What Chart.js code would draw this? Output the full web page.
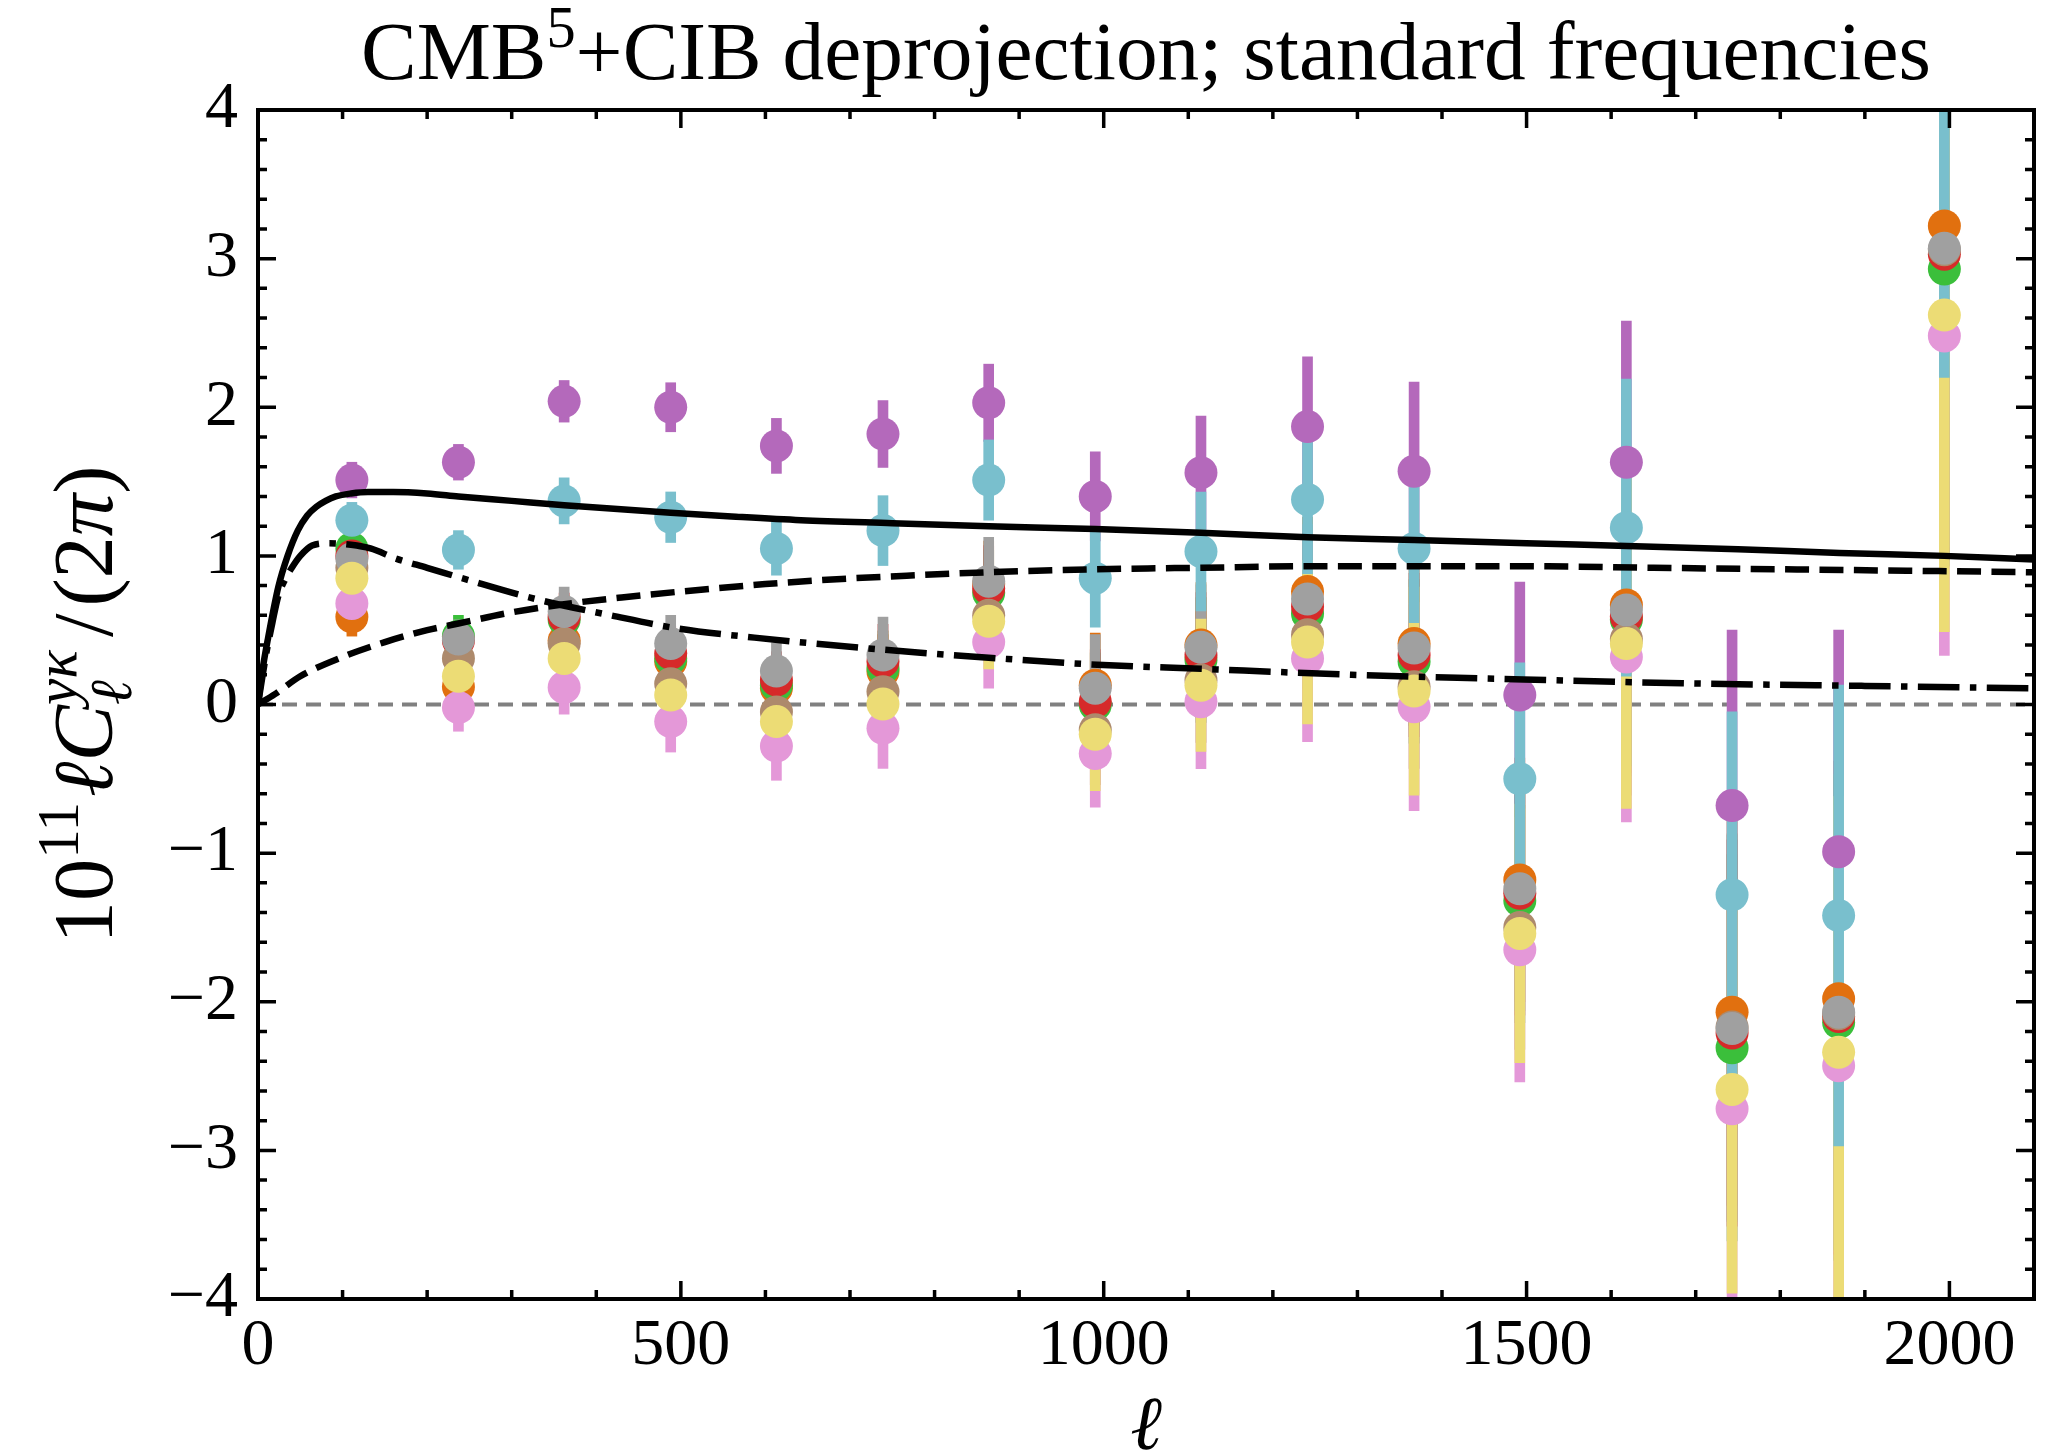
<!DOCTYPE html>
<html>
<head>
<meta charset="utf-8">
<script src="https://cdn.jsdelivr.net/npm/chart.js@4.4.1/dist/chart.umd.min.js"></script>
<style>
  html, body { margin: 0; padding: 0; background: #fff; }
  canvas { display: block; }
</style>
</head>
<body>
<canvas id="chart" width="2060" height="1453"></canvas>
<script>
// bin centres (ell)
const ells = [111, 237, 362, 488, 613, 739, 864, 990, 1115, 1241, 1367, 1492, 1618, 1743, 1869, 1994];

// measured points, one array per map
const orangeVals = [0.59, 0.12, 0.43, 0.29, 0.11, 0.22, 0.81, 0.13, 0.40, 0.76, 0.41, -1.18, 0.67, -2.07, -1.98, 3.22];
const greenVals  = [1.05, 0.46, 0.57, 0.31, 0.13, 0.245, 0.75, -0.003, 0.30, 0.61, 0.29, -1.32, 0.57, -2.31, -2.14, 2.93];
const redVals    = [1.00, 0.43, 0.59, 0.345, 0.165, 0.29, 0.78, 0.02, 0.333, 0.66, 0.333, -1.27, 0.59, -2.21, -2.10, 3.03];
const purpleVals = [1.51, 1.63, 2.04, 2.00, 1.74, 1.82, 2.03, 1.40, 1.56, 1.87, 1.57, 0.064, 1.63, -0.68, -0.99, 5.0];
const brownVals  = [0.92, 0.31, 0.41, 0.14, -0.05, 0.086, 0.60, -0.17, 0.165, 0.47, 0.12, -1.50, 0.44, -2.17, -2.08, 3.06];
const pinkVals   = [0.68, -0.02, 0.115, -0.115, -0.28, -0.16, 0.42, -0.33, 0.019, 0.31, -0.015, -1.65, 0.32, -2.72, -2.43, 2.48];
const grayVals   = [0.98, 0.44, 0.625, 0.41, 0.225, 0.333, 0.83, 0.11, 0.385, 0.71, 0.38, -1.24, 0.636, -2.18, -2.07, 3.07];
const yellowVals = [0.85, 0.19, 0.31, 0.064, -0.115, 0.003, 0.56, -0.20, 0.13, 0.42, 0.09, -1.54, 0.41, -2.59, -2.34, 2.62];
const cyanVals   = [1.24, 1.04, 1.37, 1.26, 1.05, 1.17, 1.51, 0.85, 1.03, 1.38, 1.05, -0.50, 1.19, -1.28, -1.42, 4.4];

// 1-sigma errors
const orangeErrs = [0.13, 0.13, 0.16, 0.18, 0.19, 0.25, 0.29, 0.35, 0.42, 0.50, 0.55, 0.82, 1.05, 1.30, 1.60, 2.00];
const greenErrs  = [0.12, 0.14, 0.16, 0.18, 0.19, 0.25, 0.29, 0.35, 0.42, 0.50, 0.55, 0.82, 1.05, 1.30, 1.60, 2.00];
const redErrs    = [0.12, 0.13, 0.16, 0.18, 0.19, 0.25, 0.29, 0.35, 0.42, 0.50, 0.55, 0.82, 1.05, 1.30, 1.60, 2.00];
const purpleErrs = [0.12, 0.12, 0.14, 0.165, 0.185, 0.225, 0.26, 0.30, 0.38, 0.47, 0.60, 0.76, 0.95, 1.18, 1.49, 2.40];
const brownErrs  = [0.12, 0.13, 0.16, 0.18, 0.19, 0.25, 0.29, 0.37, 0.42, 0.50, 0.55, 0.82, 1.05, 1.30, 1.60, 2.00];
const pinkErrs   = [0.12, 0.16, 0.18, 0.205, 0.23, 0.27, 0.31, 0.36, 0.45, 0.56, 0.70, 0.89, 1.11, 1.45, 1.75, 2.15];
const grayErrs   = [0.12, 0.13, 0.165, 0.19, 0.19, 0.255, 0.295, 0.36, 0.42, 0.50, 0.55, 0.82, 1.05, 1.30, 1.60, 2.10];
const yellowErrs = [0.12, 0.14, 0.16, 0.19, 0.20, 0.26, 0.32, 0.38, 0.445, 0.55, 0.70, 0.87, 1.11, 1.37, 1.72, 2.13];
const cyanErrs   = [0.12, 0.13, 0.155, 0.17, 0.18, 0.235, 0.27, 0.33, 0.40, 0.50, 0.50, 0.78, 1.00, 1.23, 1.55, 2.20];

// model curves
const totalEll = [0, 5, 12, 24, 35, 47, 58, 69, 80, 92, 110, 130, 160, 200, 237, 300, 362, 425, 488, 560, 642, 750, 864, 990, 1115, 1241, 1367, 1500, 1618, 1750, 1870, 1994, 2100];
const totalVals = [0, 0.22, 0.45, 0.79, 1.0, 1.17, 1.27, 1.33, 1.37, 1.40, 1.42, 1.43, 1.43, 1.42, 1.40, 1.37, 1.34, 1.315, 1.29, 1.265, 1.24, 1.22, 1.20, 1.18, 1.155, 1.125, 1.107, 1.085, 1.067, 1.045, 1.02, 1.0, 0.975];
const twoHaloEll = [0, 20, 50, 100, 150, 200, 237, 300, 362, 430, 500, 600, 690, 780, 864, 990, 1115, 1241, 1367, 1500, 1650, 1800, 1950, 2100];
const twoHaloVals = [0, 0.07, 0.19, 0.32, 0.42, 0.50, 0.545, 0.62, 0.675, 0.72, 0.76, 0.81, 0.845, 0.87, 0.89, 0.91, 0.92, 0.93, 0.93, 0.93, 0.92, 0.91, 0.90, 0.89];
const oneHaloEll = [0, 5, 10, 17, 24, 32, 40, 50, 64, 83, 110, 133, 164, 200, 247, 328, 417, 498, 587, 677, 780, 864, 985, 1115, 1293, 1450, 1684, 1900, 2100];
const oneHaloVals = [0, 0.18, 0.35, 0.55, 0.73, 0.84, 0.92, 1.0, 1.07, 1.085, 1.075, 1.05, 0.98, 0.92, 0.84, 0.71, 0.60, 0.51, 0.45, 0.40, 0.35, 0.315, 0.27, 0.24, 0.20, 0.175, 0.143, 0.125, 0.109];
const zeroEll = [0, 2100];
const zeroVals = [0, 0];

const xTickValues = [0, 500, 1000, 1500, 2000];
const xTickLabels = ['0', '500', '1000', '1500', '2000'];
const yTickValues = [-4, -3, -2, -1, 0, 1, 2, 3, 4];
const yTickLabels = ['\u22124', '\u22123', '\u22122', '\u22121', '0', '1', '2', '3', '4'];

const series = [
  { color: '#e1700f', vals: orangeVals, errs: orangeErrs },
  { color: '#3bbf3b', vals: greenVals, errs: greenErrs },
  { color: '#d62a2a', vals: redVals, errs: redErrs },
  { color: '#b469bb', vals: purpleVals, errs: purpleErrs },
  { color: '#ad8a6c', vals: brownVals, errs: brownErrs },
  { color: '#e498d8', vals: pinkVals, errs: pinkErrs },
  { color: '#a0a0a0', vals: grayVals, errs: grayErrs },
  { color: '#ecdc75', vals: yellowVals, errs: yellowErrs },
  { color: '#79bfcd', vals: cyanVals, errs: cyanErrs }
];

const FONT = '"Liberation Serif", "DejaVu Serif", serif';
const toXY = (xs, ys) => xs.map((x, i) => ({ x: x, y: ys[i] }));

// bottom -> top; chart.js draws higher "order" first
const datasets = [];
let layer = 0;
function push(ds) { ds.order = 1000 - layer++; ds.clip = 0; datasets.push(ds); }

push({ type: 'line', data: toXY(zeroEll, zeroVals), borderColor: '#808080', borderWidth: 4,
  borderDash: [15, 9], pointRadius: 0, fill: false });

series.forEach(s => push({
  type: 'bar',
  data: ells.map((l, i) => ({ x: l, y: [s.vals[i] - s.errs[i], s.vals[i] + s.errs[i]] })),
  backgroundColor: s.color, borderWidth: 0, grouped: false,
  barThickness: 10, maxBarThickness: 10
}));

series.forEach(s => push({
  type: 'scatter', data: toXY(ells, s.vals), backgroundColor: s.color,
  pointRadius: 16.5, pointHoverRadius: 16.5, borderWidth: 0, pointBorderWidth: 0
}));

const curve = (xs, ys, dash) => ({
  type: 'line', data: toXY(xs, ys), borderColor: '#000', borderWidth: 6.5, borderDash: dash,
  borderCapStyle: 'butt', pointRadius: 0, fill: false, cubicInterpolationMode: 'monotone'
});
push(curve(totalEll, totalVals, []));
push(curve(twoHaloEll, twoHaloVals, [24, 10.4]));
push(curve(oneHaloEll, oneHaloVals, [41.6, 10.4, 6.5, 10.4]));

// text with simple super/subscripts
function fontOf(p, size) {
  return (p.italic ? 'italic ' : '') + (size * (p.scale || 1)).toFixed(1) + 'px ' + FONT;
}
function richWidth(ctx, parts, size) {
  let w = 0;
  parts.forEach(p => {
    const items = p.stack || [p];
    let m = 0;
    items.forEach(q => { ctx.font = fontOf(q, size); m = Math.max(m, ctx.measureText(q.t).width); });
    w += m + (p.gap || 0) * size;
  });
  return w;
}
function drawRich(ctx, parts, size, x0, base) {
  let x = x0;
  parts.forEach(p => {
    const items = p.stack || [p];
    let m = 0;
    items.forEach(q => {
      ctx.font = fontOf(q, size);
      ctx.fillText(q.t, x, base + (q.dy || 0) * size);
      m = Math.max(m, ctx.measureText(q.t).width);
    });
    x += m + (p.gap || 0) * size;
  });
}

const titleParts = [
  { t: 'CMB' }, { t: '5', scale: 0.7, dy: -0.38 }, { t: '+CIB deprojection; standard frequencies' }
];
const yLabelParts = [
  { t: '10' }, { t: '11', scale: 0.7, dy: -0.4, gap: 0.06 },
  { t: '\u2113C', italic: true },
  { stack: [{ t: 'y\u03ba', italic: true, scale: 0.7, dy: -0.42 }, { t: '\u2113', italic: true, scale: 0.7, dy: 0.22 }], gap: 0.16 },
  { t: '/', gap: 0.08 }, { t: '(2' }, { t: '\u03c0', italic: true }, { t: ')' }
];

const frame = {
  id: 'frame',
  afterDraw(chart) {
    const { ctx, chartArea: a, scales: { x, y } } = chart;
    ctx.save();
    ctx.strokeStyle = '#000';
    ctx.lineWidth = 3.5;
    ctx.beginPath();
    for (let v = 0; v <= 2100; v += 100) {
      const px = x.getPixelForValue(v);
      const len = v % 500 === 0 ? 18 : 9;
      ctx.moveTo(px, a.bottom); ctx.lineTo(px, a.bottom - len);
      ctx.moveTo(px, a.top); ctx.lineTo(px, a.top + len);
    }
    for (let k = -20; k <= 20; k++) {
      const py = y.getPixelForValue(k / 5);
      const len = k % 5 === 0 ? 18 : 9;
      ctx.moveTo(a.left, py); ctx.lineTo(a.left + len, py);
      ctx.moveTo(a.right, py); ctx.lineTo(a.right - len, py);
    }
    ctx.stroke();
    ctx.lineWidth = 4;
    ctx.strokeRect(a.left, a.top, a.right - a.left, a.bottom - a.top);

    ctx.fillStyle = '#000';
    ctx.textBaseline = 'alphabetic';
    ctx.textAlign = 'left';
    const cx = (a.left + a.right) / 2;
    // title, scaled to the reference width
    let ts = 76 * 1570 / richWidth(ctx, titleParts, 76);
    drawRich(ctx, titleParts, ts, cx - richWidth(ctx, titleParts, ts) / 2, 79);

    // y label
    let ys = 76 * 478 / richWidth(ctx, yLabelParts, 76);
    ctx.save();
    ctx.translate(112, (a.top + a.bottom) / 2);
    ctx.rotate(-Math.PI / 2);
    drawRich(ctx, yLabelParts, ys, -richWidth(ctx, yLabelParts, ys) / 2, 0);
    ctx.restore();

    // x label
    ctx.font = 'italic 76px ' + FONT;
    ctx.textAlign = 'center';
    ctx.fillText('\u2113', cx, 1449);
    ctx.restore();
  }
};

new Chart(document.getElementById('chart'), {
  type: 'scatter',
  data: { datasets: datasets },
  options: {
    responsive: false,
    maintainAspectRatio: false,
    devicePixelRatio: 1,
    animation: false,
    events: [],
    layout: { padding: { top: 110, right: 26, bottom: 0, left: 0 } },
    plugins: { legend: { display: false }, tooltip: { enabled: false }, title: { display: false } },
    scales: {
      x: {
        type: 'linear', min: 0, max: 2100, offset: false,
        grid: { display: false, drawTicks: false, offset: false },
        border: { display: false },
        afterFit: s => { s.height = 154; },
        afterBuildTicks: s => { s.ticks = xTickValues.map(v => ({ value: v })); },
        ticks: {
          padding: 8, maxRotation: 0, autoSkip: false, color: '#000',
          font: { family: FONT, size: 66 },
          callback: v => xTickLabels[xTickValues.indexOf(v)] ?? ''
        }
      },
      y: {
        type: 'linear', min: -4, max: 4,
        grid: { display: false, drawTicks: false },
        border: { display: false },
        afterFit: s => { s.width = 258; },
        afterBuildTicks: s => { s.ticks = yTickValues.map(v => ({ value: v })); },
        ticks: {
          padding: 20, autoSkip: false, color: '#000',
          font: { family: FONT, size: 66 },
          callback: v => yTickLabels[yTickValues.indexOf(v)] ?? ''
        }
      }
    }
  },
  plugins: [frame]
});
</script>
</body>
</html>
